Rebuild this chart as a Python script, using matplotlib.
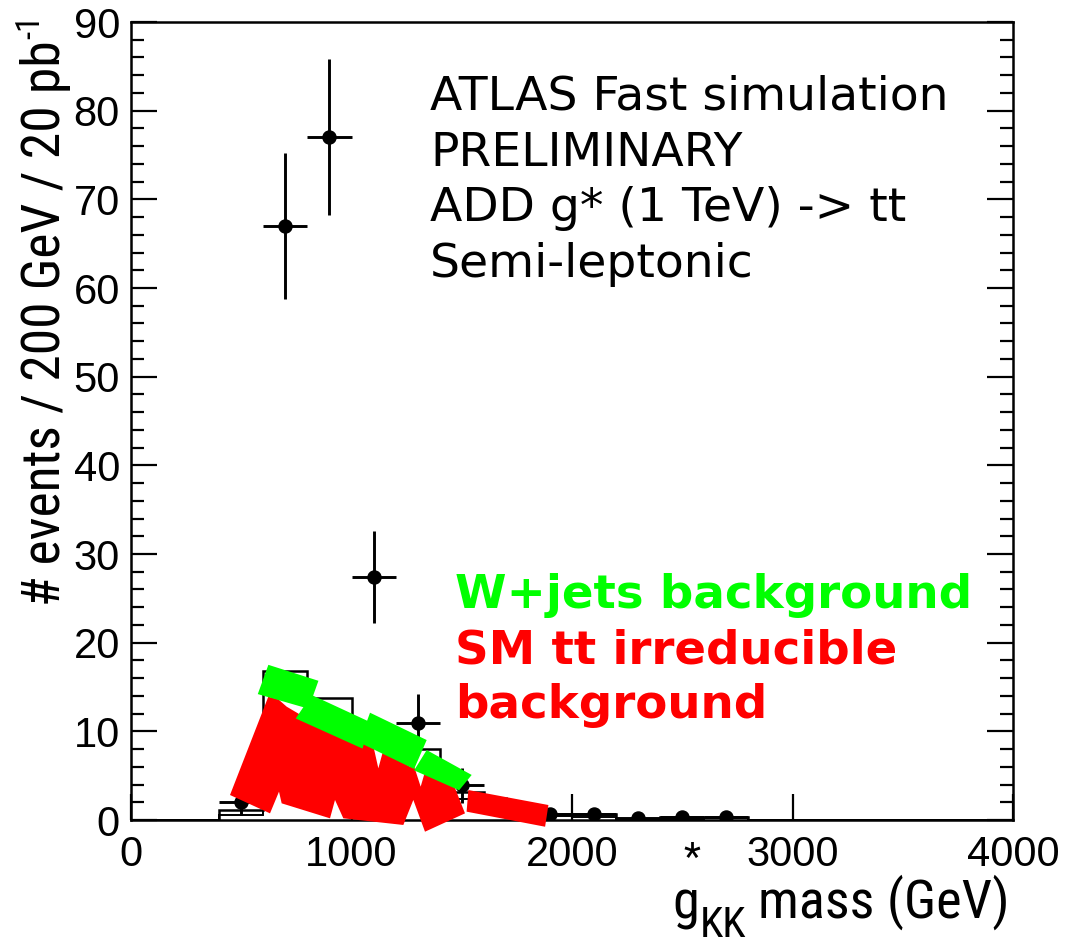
import numpy as np
import matplotlib
matplotlib.use("Agg")
import matplotlib.pyplot as plt
from matplotlib import font_manager
from matplotlib.font_manager import FontProperties

# ---------------------------------------------------------------- data
bin_edges = [0, 200, 400, 600, 800, 1000, 1200, 1400, 1600, 1800, 2000,
             2200, 2400, 2600, 2800, 3000, 3200, 3400, 3600, 3800, 4000]
mc_total = [0, 0, 1.1, 16.8, 13.8, 10.0, 8.0, 3.2, 1.6, 0.7, 0.65,
            0.05, 0.3, 0.35, 0, 0, 0, 0, 0, 0]
mc_background = [0, 0, 0.6, 7.0, 6.0, 5.0, 3.5, 2.4, 1.0, 0.45, 0.35,
                 0.02, 0.15, 0.2, 0, 0, 0, 0, 0, 0]

data_mass = [500, 700, 900, 1100, 1300, 1500, 1700, 1900, 2100, 2300, 2500, 2700]
data_events = [2.0, 67.0, 77.0, 27.4, 10.9, 3.9, 1.6, 0.68, 0.68, 0.19, 0.38, 0.38]
data_err = [1.4, 8.2, 8.8, 5.2, 3.3, 2.0, 1.0, 0.5, 0.5, 0.3, 0.4, 0.4]
bin_half_width = 100

# marker-pen highlights, outlines as (mass, events) vertices
wjets_marks = [
    [(623, 17.50), (850, 15.70), (805, 12.55), (575, 14.20)],
    [(819, 14.10), (1084, 11.05), (1050, 8.05), (747, 11.45)],
    [(1084, 12.10), (1341, 9.02), (1284, 5.75), (1035, 8.75)],
    [(1341, 7.89), (1545, 5.08), (1488, 3.35), (1284, 5.60)],
]
ttbar_marks = [
    [(449.0, 2.82), (622.8, 13.91), (668.2, 13.61), (706.0, 12.78),
     (864.7, 10.45), (1053.6, 8.65), (1099.0, 8.35), (1121.7, 5.83),
     (1144.4, 7.89), (1265.3, 6.01), (1283.4, 6.09), (1313.7, 3.76),
     (1337.9, 5.83), (1424.0, 6.47), (1514.7, 0.75), (1333.3, -1.32),
     (1280.4, 2.26), (1235.1, -0.56), (962.9, 0.19), (925.2, 2.26),
     (902.5, 0.19), (683.3, 1.88), (671.2, 3.20), (630.4, 0.75)],
    [(1530, 3.38), (1893, 1.69), (1878, -0.76), (1522, 0.94)],
]

info_lines = ["ATLAS Fast simulation", "PRELIMINARY",
              "ADD g* (1 TeV) -> tt", "Semi-leptonic"]
legend_lines = [("W+jets background", "#00ff00"),
                ("SM tt irreducible", "#ff0000"),
                ("background", "#ff0000")]

# ---------------------------------------------------------------- fonts
plt.rcParams["font.family"] = ["Liberation Sans", "DejaVu Sans"]


def narrow_font_file():
    preferred = ["Liberation Sans Narrow", "Arial Narrow", "Roboto Condensed",
                 "Open Sans Condensed", "Noto Sans Condensed", "DejaVu Sans Condensed"]
    entries = font_manager.fontManager.ttflist
    plain = [f for f in entries if f.style == "normal"
             and f.weight in (400, "normal", "regular", "book")]
    for name in preferred:
        for f in plain:
            if f.name == name:
                return f.fname
    for f in plain:
        if "condensed" in str(f.stretch).lower() or "Narrow" in f.name:
            return f.fname
    return None


nfile = narrow_font_file()


def label_font(size):
    if nfile:
        return FontProperties(fname=nfile, size=size)
    return FontProperties(family="Liberation Sans", size=size)


W, H = 1071, 944
fig = plt.figure(figsize=(W / 100, H / 100), dpi=100)
fig.patch.set_facecolor("white")
ax = fig.add_axes([131 / W, 1 - 820 / H, (1013 - 131) / W, (820 - 22) / H])

ax.set_xlim(0, 4000)
ax.set_ylim(0, 90)

# simulated expectation
ax.stairs(mc_total, bin_edges, color="black", lw=1.8, baseline=0, zorder=2)
ax.stairs(mc_background, bin_edges, color="black", lw=1.4, baseline=0, zorder=2)

# pseudo-data
ax.errorbar(data_mass, data_events, yerr=data_err, xerr=bin_half_width,
            fmt="o", color="black", ms=9.4, elinewidth=2.1, capsize=0,
            zorder=3)

# marker-pen highlights
for verts in ttbar_marks:
    xs, ys = zip(*verts)
    ax.fill(xs, ys, color="#ff0000", lw=0, clip_on=False, zorder=5)
for verts in wjets_marks:
    xs, ys = zip(*verts)
    ax.fill(xs, ys, color="#00ff00", lw=0, clip_on=False, zorder=6)

# axes styling
for s in ax.spines.values():
    s.set_linewidth(1.8)
    s.set_zorder(4)
ax.set_xticks([0, 1000, 2000, 3000, 4000])
ax.set_yticks(np.arange(0, 91, 10))
ax.set_yticks(np.arange(0, 91, 2), minor=True)
ax.tick_params(axis="y", which="both", direction="in", left=True, right=True,
               width=1.6, labelsize=30, pad=8)
ax.tick_params(axis="y", which="major", length=18.7)
ax.tick_params(axis="y", which="minor", length=9.4)
ax.tick_params(axis="x", which="major", direction="in", length=18.5,
               width=1.6, labelsize=30, pad=11, top=False)

renderer = fig.canvas.get_renderer()


def px_extent(t):
    return t.get_window_extent(renderer)


# y-axis title, sized to span the same length as the axis text column
ytitle = fig.text(46 / W, 1 - 606 / H, "# events / 200 GeV / 20 pb",
                  rotation=90, ha="center", va="bottom",
                  fontproperties=label_font(34))
size = 34 * 566 / px_extent(ytitle).height
ytitle.set_fontproperties(label_font(size))
bb = px_extent(ytitle)
fig.text((bb.x0 + 0.2 * bb.width) / W, (bb.y1 + 1) / H, "-1", rotation=90,
         ha="center", va="bottom", fontproperties=label_font(size * 0.62))

# x-axis title
xmass = fig.text(1010 / W, 1 - 918 / H, "mass (GeV)", ha="right", va="baseline",
                 fontproperties=label_font(36))
msize = 36 * 252 / px_extent(xmass).width
xmass.set_fontproperties(label_font(msize))
gtext = fig.text(672 / W, 1 - 918 / H, "g", ha="left", va="baseline",
                 fontproperties=label_font(msize))
gbox = px_extent(gtext)
star = fig.text(692 / W, (gbox.y1 + 1) / H, "*", ha="center", va="bottom",
                fontproperties=label_font(msize * 0.72))
fig.text((gbox.x1 + 1) / W, 1 - 937 / H, "KK", ha="left", va="baseline",
         fontproperties=label_font(msize * 0.78))

for i, line in enumerate(info_lines):
    fig.text(430 / W, 1 - (110 + 55.7 * i) / H, line, ha="left",
             va="baseline", fontsize=34, family="DejaVu Sans")
for i, (line, col) in enumerate(legend_lines):
    fig.text(455 / W, 1 - (608 + 55 * i) / H, line, ha="left",
             va="baseline", fontsize=33.7, family="DejaVu Sans",
             fontweight="bold", color=col)

fig.savefig("out.png", dpi=100)
